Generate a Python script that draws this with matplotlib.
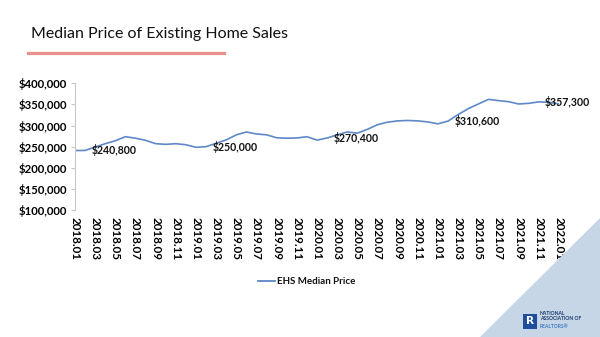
import matplotlib
matplotlib.use("Agg")
import matplotlib.pyplot as plt
from matplotlib.patches import Polygon, Rectangle
from matplotlib.lines import Line2D
import numpy as np

# ---- data ----
months = [f"{y}.{m:02d}" for y in range(2018, 2022) for m in range(1, 13)] + ["2022.01"]
prices = [240.8, 241.0, 249.0, 257.0, 264.0, 273.6, 270.0, 265.0, 257.0, 255.5,
          257.0, 254.5, 248.5, 250.0, 258.0, 266.0, 278.0, 284.7, 280.0, 278.0,
          271.0, 270.0, 270.5, 273.6, 265.5, 270.4, 278.0, 284.7, 282.0, 291.0,
          302.0, 308.0, 311.0, 312.0, 311.0, 308.5, 304.0, 310.6, 326.0, 340.0,
          351.0, 362.0, 359.0, 356.5, 351.0, 352.6, 356.0, 355.0, 351.0]
prices = [p * 1000 for p in prices]
label_idx = [1, 13, 25, 37, 46]
label_txt = ["$240,800", "$250,000", "$270,400", "$310,600", "$357,300"]
yticks = [100000, 150000, 200000, 250000, 300000, 350000, 400000]
title = "Median Price of Existing Home Sales"
series_name = "EHS Median Price"

FONT = "Lato"
W, H = 600, 337
fig = plt.figure(figsize=(W / 100, H / 100), dpi=100)
fig.patch.set_facecolor("white")

# background triangle (bottom right)
fig.patches.append(Polygon([[600 / W, 1 - 218 / H], [1, 0], [480 / W, 0]],
                           closed=True, transform=fig.transFigure,
                           facecolor="#C6D6E7", edgecolor="none", zorder=0))

ax = fig.add_axes([75 / W, 1 - 210 / H, 484 / W, 126.7 / H])
x = np.arange(len(prices))
line_color = "#5F88C6"
ax.plot(x, prices, color=line_color, lw=1.2, solid_joinstyle="round")
ax.set_xlim(0, len(prices) - 1)
ax.set_ylim(100000, 400000)
ax.set_yticks(yticks)
ax.set_yticklabels([f"${v:,}" for v in yticks], fontfamily=FONT,
                   fontweight="bold", fontsize=8.2)
ax.set_xticks(x[::2])
ax.set_xticklabels(months[::2], rotation=270, fontfamily=FONT,
                   fontweight="bold", fontsize=8.4, va="top", ha="center")
for s in ["top", "right", "bottom"]:
    ax.spines[s].set_visible(False)
ax.spines["left"].set_color("#C8C8C8")
ax.spines["left"].set_linewidth(0.8)
ax.tick_params(axis="y", length=3, color="#C8C8C8", pad=2.5)
ax.tick_params(axis="x", length=0, pad=5)
ax.patch.set_alpha(0)

for i, t in zip(label_idx, label_txt):
    ax.annotate(t, (x[i], prices[i]), xytext=(4.5, 0), textcoords="offset points",
                ha="left", va="center", fontfamily=FONT, fontweight="bold",
                fontsize=7.6, color="#111111")

# title and underline
fig.text(31 / W, 1 - 34 / H, title, fontfamily=FONT, fontsize=11.5,
         color="#111111", ha="left", va="center")
fig.add_artist(Line2D([28 / W, 224 / W], [1 - 53 / H, 1 - 53 / H],
                      color="#E8918A", lw=2.3, transform=fig.transFigure))

# legend
fig.add_artist(Line2D([258 / W, 275 / W], [1 - 281 / H, 1 - 281 / H],
                      color=line_color, lw=1.3, transform=fig.transFigure))
fig.text(277 / W, 1 - 281 / H, series_name, fontfamily=FONT, fontweight="bold",
         fontsize=7.0, color="#111111", ha="left", va="center")

# logo
fig.patches.append(Rectangle((523 / W, 1 - 329 / H), 14 / W, 15 / H,
                             transform=fig.transFigure, facecolor="#1F4E9A",
                             edgecolor="none", zorder=2))
fig.text(530 / W, 1 - 321.5 / H, "R", fontfamily="DejaVu Sans", fontweight="bold",
         fontsize=7.5, color="white", ha="center", va="center", zorder=3)
fig.text(540 / W, 1 - 316 / H, "NATIONAL\nASSOCIATION OF", fontfamily=FONT,
         fontweight="bold", fontsize=3.6, color="#1B3A6B", ha="left", va="center",
         linespacing=1.0)
fig.text(540 / W, 1 - 326 / H, "REALTORS®", fontfamily=FONT, fontweight="bold",
         fontsize=3.6, color="#3E7CC4", ha="left", va="center")

fig.savefig("out.png", dpi=100, facecolor="white")
